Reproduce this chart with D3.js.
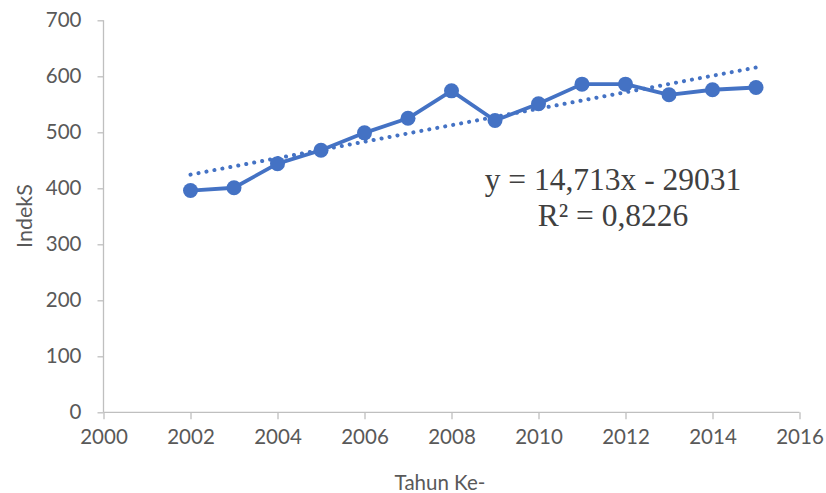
<!DOCTYPE html>
<html><head><meta charset="utf-8">
<script src="https://cdn.jsdelivr.net/npm/d3@7"></script>
<style>body{margin:0;background:#fff}svg{display:block}</style>
</head><body>
<svg id="c" width="826" height="493"></svg>
<script>
const years = [2002,2003,2004,2005,2006,2007,2008,2009,2010,2011,2012,2013,2014,2015];
const values = [396,401,444,468,499,525,574,521,551,586,586,567,576,580];
const xTicks = [2000,2002,2004,2006,2008,2010,2012,2014,2016];
const yTicks = [0,100,200,300,400,500,600,700];
const slope = 14.713, intercept = -29031;
const eqLines = ["y = 14,713x - 29031","R² = 0,8226"];
const xTitle = "Tahun Ke-", yTitle = "IndekS";

const svg = d3.select("#c");
const x = d3.scaleLinear().domain([2000,2016]).range([103.5,799.5]);
const y = d3.scaleLinear().domain([0,700]).range([412.3,20.3]);
const axisColor = "#BFBFBF", textColor = "#595959", blue = "#4472C4";
const font = "Lato, 'Open Sans', sans-serif";

const ya = svg.append("g").attr("transform","translate(103.5,0)")
  .call(d3.axisLeft(y).tickValues(yTicks).tickSize(6).tickPadding(16).tickFormat(d3.format("d")));
const xa = svg.append("g").attr("transform","translate(0,412.3)")
  .call(d3.axisBottom(x).tickValues(xTicks).tickSize(7).tickPadding(10).tickFormat(d3.format("d")));
[ya,xa].forEach(a=>{
  a.selectAll("path,line").attr("stroke",axisColor).attr("stroke-width",1.3);
  a.selectAll("text").attr("fill",textColor).style("font-family",font).style("font-size","20.5px");
});
ya.select(".domain").attr("d","M0,20.3V412.3");
xa.select(".domain").attr("d","M103.5,0H799.5");

// trendline
svg.append("line")
  .attr("x1",x(2002)).attr("y1",y(slope*2002+intercept))
  .attr("x2",x(2015)).attr("y2",y(slope*2015+intercept))
  .attr("stroke",blue).attr("stroke-width",4).attr("stroke-linecap","round")
  .attr("stroke-dasharray","0.1 8");

const data = years.map((yr,i)=>({yr,v:values[i]}));
svg.append("path").datum(data)
  .attr("fill","none").attr("stroke",blue).attr("stroke-width",3.8).attr("stroke-linejoin","round")
  .attr("d",d3.line().x(d=>x(d.yr)).y(d=>y(d.v)));
svg.selectAll("circle.m").data(data).join("circle")
  .attr("class","m").attr("cx",d=>x(d.yr)).attr("cy",d=>y(d.v)).attr("r",7.5).attr("fill",blue);

// equation
svg.selectAll("text.eq").data(eqLines).join("text").attr("class","eq")
  .attr("x",613).attr("y",(d,i)=>189.5+i*36).attr("text-anchor","middle")
  .attr("fill","#404040").style("font-family","'Liberation Serif','Times New Roman',serif").style("font-size","31.5px")
  .text(d=>d);

svg.append("text").attr("x",440).attr("y",490).attr("text-anchor","middle")
  .attr("fill",textColor).style("font-family",font).style("font-size","20.5px").text(xTitle);
svg.append("text").attr("transform","translate(32,216) rotate(-90)").attr("text-anchor","middle")
  .attr("fill",textColor).style("font-family",font).style("font-size","21.5px").text(yTitle);
</script>
</body></html>
